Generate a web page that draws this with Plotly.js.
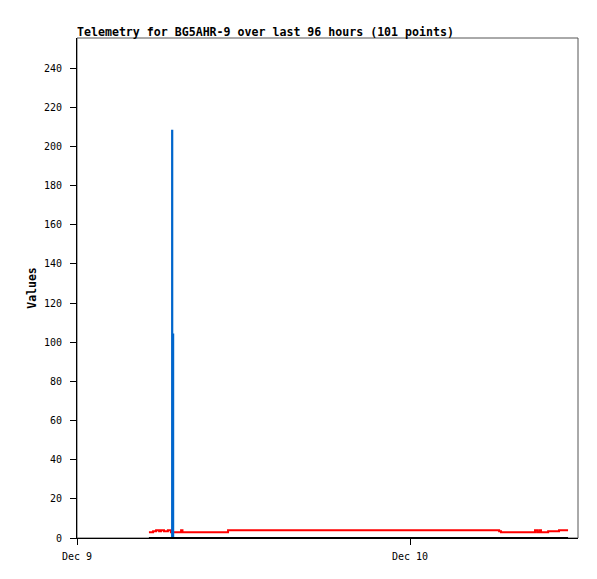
<!DOCTYPE html>
<html>
<head>
<meta charset="utf-8">
<script src="https://cdn.plot.ly/plotly-3.0.1.min.js"></script>
<style>html,body{margin:0;padding:0;background:#fff;}#chart{width:597px;height:579px;}</style>
</head>
<body>
<div id="chart"></div>
<script>
// Series A (red)
const redTimes = ['2023-12-09 05:11','2023-12-09 05:29','2023-12-09 05:42','2023-12-09 05:55','2023-12-09 06:03','2023-12-09 06:16','2023-12-09 06:33','2023-12-09 06:46','2023-12-09 07:30','2023-12-09 07:36','2023-12-09 10:53','2023-12-10 06:25','2023-12-10 06:33','2023-12-10 09:00','2023-12-10 09:09','2023-12-10 09:18','2023-12-10 09:26','2023-12-10 09:57','2023-12-10 10:44','2023-12-10 11:23'];
const redValues = [3,3.5,4,3.5,4,3.5,4,3,4,3,4,3.5,3,4,3,4,3,3.5,4,4];
// Series B (blue)
const blueTimes = ['2023-12-09 05:11','2023-12-09 06:51','2023-12-09 06:52','2023-12-09 06:56','2023-12-10 11:23'];
const blueValues = [0,208,104,0,0];
// Series C (black)
const blackTimes = ['2023-12-09 05:11','2023-12-10 11:23'];
const blackValues = [0,0];
// Axis ticks
const xTickVals = ['2023-12-09 00:00','2023-12-10 00:00'];
const xTickText = ['Dec 9','Dec 10'];
const yTickVals = [0,20,40,60,80,100,120,140,160,180,200,220,240];

const mono = 'DejaVu Sans Mono, Liberation Mono, monospace';

const traces = [
  {x: redTimes, y: redValues, type: 'scatter', mode: 'lines', line: {color: '#ff0000', width: 2, shape: 'hv'}, hoverinfo: 'x+y'},
  {x: blueTimes, y: blueValues, type: 'scatter', mode: 'lines', line: {color: '#0066cc', width: 2, shape: 'hv'}, hoverinfo: 'x+y'},
  {x: blackTimes, y: blackValues, type: 'scatter', mode: 'lines', line: {color: '#000000', width: 2, shape: 'hv'}, hoverinfo: 'x+y'}
];

const layout = {
  width: 597, height: 579,
  margin: {l: 77, r: 19, t: 38, b: 41},
  paper_bgcolor: '#ffffff', plot_bgcolor: '#ffffff',
  showlegend: false,
  font: {family: mono, size: 10, color: '#000'},
  title: {text: '<b>Telemetry for BG5AHR-9 over last 96 hours (101 points)</b>', font: {family: mono, size: 11.6, color: '#000'}, x: 0, xref: 'paper', xanchor: 'left', y: 1, yref: 'paper', yanchor: 'bottom', pad: {b: 2}},
  xaxis: {
    type: 'date', range: ['2023-12-09 00:00','2023-12-10 12:06'],
    tickmode: 'array', tickvals: xTickVals, ticktext: xTickText,
    showgrid: false, zeroline: false, showline: true, linecolor: '#000', linewidth: 1,
    ticks: 'outside', ticklen: 6, tickcolor: '#000', tickwidth: 1,
    ticklabelstandoff: 3,
    tickfont: {family: mono, size: 10, color: '#000'}, fixedrange: true
  },
  yaxis: {
    range: [0, 255.4], tickmode: 'array', tickvals: yTickVals,
    showgrid: false, zeroline: false, showline: true, linecolor: '#000', linewidth: 1,
    ticks: 'outside', ticklen: 6, tickcolor: '#000', tickwidth: 1,
    ticklabelstandoff: 6,
    tickfont: {family: mono, size: 10, color: '#000'},
    title: {text: '<b>Values</b>', font: {family: mono, size: 11.5, color: '#000'}, standoff: 4},
    fixedrange: true
  },
  shapes: [
    {type: 'rect', xref: 'paper', yref: 'paper', x0: 0, x1: 1, y0: 0, y1: 1, line: {color: '#555555', width: 1}, layer: 'below'}
  ]
};

Plotly.newPlot('chart', traces, layout, {displayModeBar: false, staticPlot: true});
</script>
</body>
</html>
